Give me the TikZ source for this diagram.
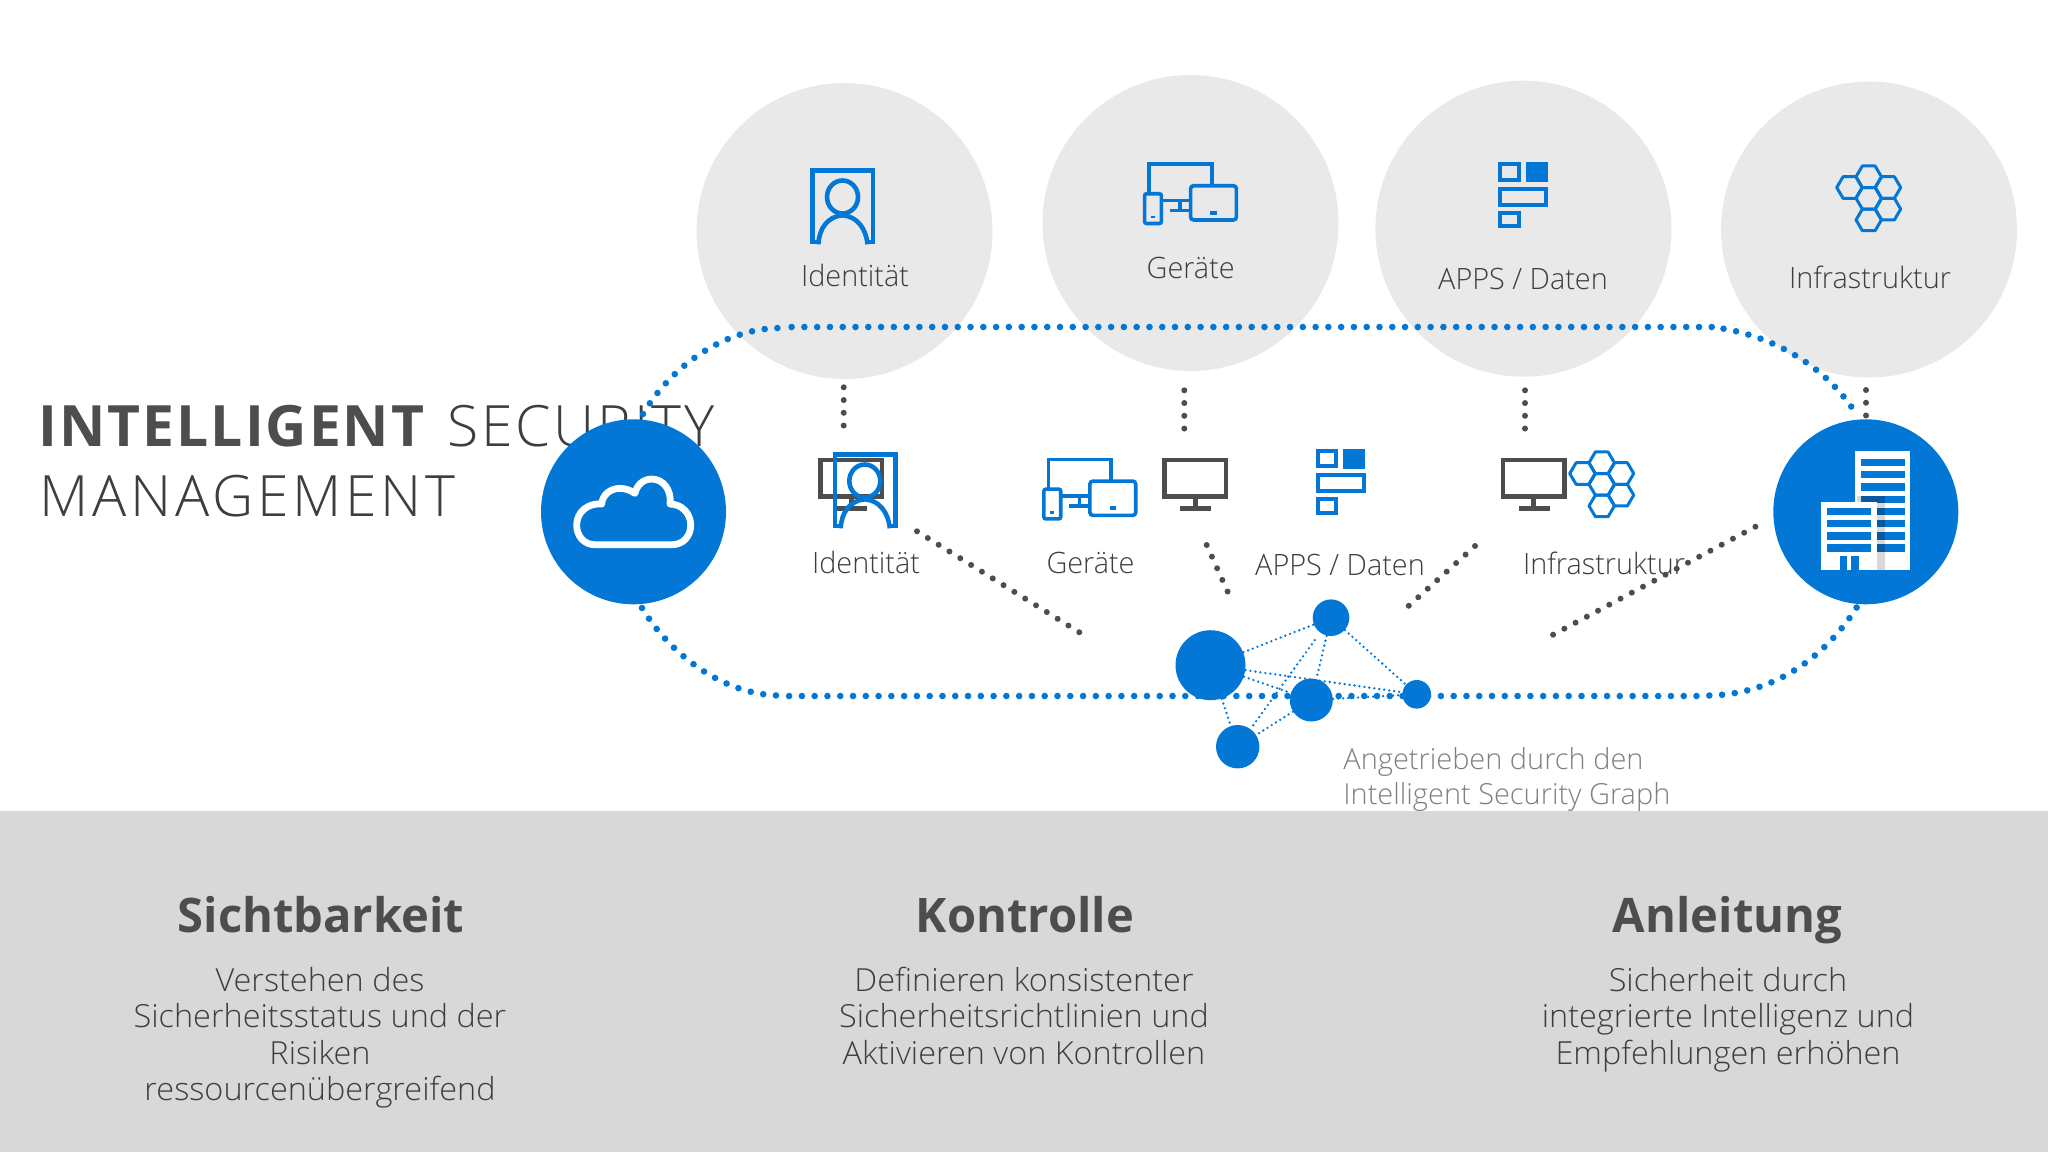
\documentclass[tikz,border=0pt]{standalone}
\usepackage{fontspec}
\setmainfont{Open Sans}
\newfontfamily\labf[FakeStretch=0.98]{Open Sans Light}
\newfontfamily\bodyf[FakeStretch=1.02]{Open Sans Light}
\newfontfamily\captf[FakeStretch=0.998]{Open Sans Light}
\newfontfamily\headf[FakeStretch=0.99]{Open Sans}
\newfontfamily\titleb[LetterSpace=3.4]{Open Sans}
\newfontfamily\titles[LetterSpace=5.05]{Open Sans Light}
\newfontfamily\titlem[LetterSpace=6.6]{Open Sans Light}
\definecolor{msblue}{HTML}{0377D6}
\definecolor{ink}{HTML}{4D4D4F}
\definecolor{inklight}{HTML}{3E3E40}
\definecolor{bubble}{HTML}{E9E9EA}
\definecolor{bandgrey}{HTML}{D9D8D9}
\definecolor{capt}{HTML}{7F7F82}
\definecolor{shadowgrey}{HTML}{D8D8D8}
\definecolor{deepblue}{HTML}{075A9F}
\tikzset{
  bubblenode/.style={circle,fill=bubble,inner sep=0pt,minimum size=148pt},
  bignode/.style={circle,fill=msblue,inner sep=0pt,minimum size=92.5pt},
  graphnode/.style={circle,fill=msblue,inner sep=0pt},
  lab/.style={anchor=base,text=inklight,inner sep=0pt,font=\labf\fontsize{14.7}{17}\selectfont},
  bodytxt/.style={anchor=base,text=inklight,inner sep=0pt,font=\bodyf\fontsize{15.9}{18}\selectfont},
  headtxt/.style={anchor=base,text=ink,inner sep=0pt,font=\headf\bfseries\fontsize{23.8}{26}\selectfont},
  titletxt/.style={anchor=base west,text=ink,inner sep=0pt},
  titlelight/.style={anchor=base west,text=inklight,inner sep=0pt},
  capttxt/.style={anchor=base west,text=capt,inner sep=0pt,font=\captf\fontsize{14.5}{17}\selectfont},
  bluedots/.style={draw=msblue,line width=3.3pt,line cap=round,dash pattern=on 0pt off 6.39pt},
  darkdots/.style={draw=ink,line width=3pt,line cap=round,dash pattern=on 0pt off 6.37pt},
  edgedots/.style={draw=msblue,line width=1.3pt,line cap=round,dash pattern=on 0pt off 2.5pt},
  idicon/.pic={
    \begin{scope}[draw=msblue,line width=2.3pt,line join=miter]
      \draw (8.4,73.7) -- (2.6,73.7) -- (2.6,2.2) -- (62.9,2.2) -- (62.9,73.7) -- (57.5,73.7);
      \draw (8.4,76) .. controls (9,60) and (18,48) .. (32.5,47) .. controls (47,48) and (56,60) .. (57.5,76);
      \draw (32.5,28.7) ellipse [x radius=15.5,y radius=16.5];
    \end{scope}
  },
  devicon/.pic={
    \begin{scope}[draw=msblue,line width=1.8pt]
      \draw (6.2,30) -- (6.2,1.8) -- (68.7,1.8) -- (68.7,22);
      \draw (20,38) -- (46,38);
      \draw (37,38) -- (37,48);
      \draw (27,48.3) -- (46,48.3);
      \draw[rounded corners=1pt] (1.6,31.4) rectangle (18.4,61.2);
      \draw[rounded corners=1.5pt] (47.6,23.4) rectangle (93.4,57.7);
    \end{scope}
    \fill[msblue] (8,53.5) rectangle (12,56);
    \fill[msblue] (67.3,48.7) rectangle (73.8,52.7);
  },
  appicon/.pic={
    \begin{scope}[draw=msblue,line width=2pt]
      \draw (2,2) rectangle (20.2,17.4);
      \draw (2,26.4) rectangle (48,42.4);
      \draw (2,50.4) rectangle (20.2,64);
    \end{scope}
    \fill[msblue] (27.6,0) rectangle (49.6,20);
  },
  hexicon/.pic={
    \foreach \hx/\hy in {0/-21.6,-19.3/-10.8,19.3/-10.8,0/0,19.3/10.8,0/21.6}{
      \draw[msblue,line width=1.5pt,line join=round] (\hx,\hy) +(-12.7,0) -- +(-6.35,-10.8) -- +(6.35,-10.8) -- +(12.7,0) -- +(6.35,10.8) -- +(-6.35,10.8) -- cycle;
    }
  },
  monicon/.pic={
    \draw[ink,line width=2.3pt] (2.3,2.3) rectangle (64,39);
    \fill[ink] (30.5,41) rectangle (35.5,50);
    \fill[ink] (18,48.3) rectangle (49,53.3);
  },
}
\begin{document}
\begin{tikzpicture}[x=0.5pt,y=-0.5pt]
\useasboundingbox (0,0) rectangle (2048,1152);
% band
\fill[bandgrey] (0,810.7) rectangle (2048,1152);
% bubbles
\node[bubblenode] (b1) at (844.5,231) {};
\node[bubblenode] (b2) at (1190.5,223) {};
\node[bubblenode] (b3) at (1523.4,228.7) {};
\node[bubblenode] (b4) at (1869,229.5) {};
% top icons
\pic at (810,168.3) {idicon};
\pic at (1143,162.3) {devicon};
\pic at (1498.4,162.3) {appicon};
\pic at (1868.7,198.3) {hexicon};
% top labels
\node[lab] (l1) at (855,286) {Identität};
\node[lab] (l2) at (1190.7,278.5) {Geräte};
\node[lab] (l3) at (1523,289.5) {APPS / Daten};
\node[lab] (l4) at (1870,288.2) {Infrastruktur};
% title
\node[titletxt] (t1) at (38.5,446.7) {\titleb\bfseries\fontsize{28.5}{30}\selectfont INTELLIGENT};
\node[titlelight] (t2) at (446.8,446.7) {\titles\fontsize{28.5}{30}\selectfont SECURITY};
\node[titlelight] (t3) at (39.2,516.7) {\titlem\fontsize{28.5}{30}\selectfont MANAGEMENT};
% second row icons
\pic at (818,457.7) {monicon};
\pic at (832.3,452.3) {idicon};
\pic at (1042.3,457.7) {devicon};
\pic at (1162,457.7) {monicon};
\pic at (1315.7,449) {appicon};
\pic at (1500.5,457.7) {monicon};
\pic at (1601.7,484.3) {hexicon};
% second row labels
\node[lab] (m1) at (866,573) {Identität};
\node[lab] (m2) at (1090.5,573) {Geräte};
\node[lab] (m3) at (1340,575.5) {APPS / Daten};
\node[lab] (m4) at (1604,574) {Infrastruktur};
% dotted loop
\coordinate (ltA) at (643,414); \coordinate (ltB) at (779,328);
\coordinate (tS) at (791.6,327); \coordinate (tE) at (1713,327);
\coordinate (rtA) at (1723.5,328.7); \coordinate (rtB) at (1858,417);
\coordinate (lbA) at (642,608); \coordinate (lbB) at (778,695.5);
\coordinate (bS) at (789.1,696); \coordinate (bE) at (1700,696);
\coordinate (rbA) at (1709.3,695.5); \coordinate (rbB) at (1857,607);
\draw[bluedots] (ltA) .. controls (670,368) and (722,329) .. (ltB);
\draw[bluedots] (tS) -- (tE);
\draw[bluedots] (rtA) .. controls (1778,338) and (1830,370) .. (rtB);
\draw[bluedots] (lbA) .. controls (670,654) and (722,694) .. (lbB);
\draw[bluedots] (bS) -- (bE);
\draw[bluedots] (rbA) .. controls (1775,694) and (1825,657) .. (rbB);
% vertical dotted lines
\coordinate (v1a) at (843.7,387.3); \coordinate (v1b) at (843.7,426);
\coordinate (v2a) at (1184.3,390.3); \coordinate (v2b) at (1184.3,429);
\coordinate (v3a) at (1525,390.3); \coordinate (v3b) at (1525,429);
\coordinate (v4a) at (1866,390); \coordinate (v4b) at (1866,416);
\draw[darkdots] (v1a) -- (v1b);
\draw[darkdots] (v2a) -- (v2b);
\draw[darkdots] (v3a) -- (v3b);
\draw[darkdots] (v4a) -- (v4b);
% diagonal dotted lines
\coordinate (d1a) at (917,531.3); \coordinate (d1b) at (1080.5,633);
\coordinate (d2a) at (1206.7,545); \coordinate (d2b) at (1228,592.5);
\coordinate (d3a) at (1475,546); \coordinate (d3b) at (1408,606.5);
\coordinate (d4a) at (1755.4,526.7); \coordinate (d4b) at (1551.5,635.5);
\draw[darkdots] (d1a) -- (d1b);
\draw[darkdots] (d2a) -- (d2b);
\draw[darkdots] (d3a) -- (d3b);
\draw[darkdots] (d4a) -- (d4b);
% graph
\node[graphnode,minimum size=35pt] (n1) at (1210.5,665.2) {};
\node[graphnode,minimum size=18.3pt] (n2) at (1331,617.7) {};
\node[graphnode,minimum size=21.5pt] (n3) at (1311.3,700) {};
\node[graphnode,minimum size=14.3pt] (n4) at (1416.7,694.3) {};
\node[graphnode,minimum size=21.7pt] (n5) at (1237.7,746.7) {};
\draw[edgedots] (n1) -- (n2);
\draw[edgedots] (n1) -- (n3);
\draw[edgedots] (n1) -- (n4);
\draw[edgedots] (n1) -- (n5);
\draw[edgedots] (n2) -- (n3);
\draw[edgedots] (n2) -- (n4);
\draw[edgedots,shorten <=4.5pt] (n2) -- (n5);
\draw[edgedots] (n3) -- (n4);
\draw[edgedots] (n3) -- (n5);
% caption
\node[capttxt] (c1) at (1343,769) {Angetrieben durch den};
\node[capttxt] (c2) at (1343,804.2) {Intelligent Security Graph};
% big circles
\node[bignode] (cloud) at (633.5,511.8) {};
\node[bignode] (bld) at (1865.8,511.8) {};
% cloud icon
\begin{scope}[shift={(520,320)},x=0.1667pt,y=-0.1667pt]
\draw[white,line width=3.4pt,line join=round] (225,674) -- (455,674) .. controls (490,674) and (512,648) .. (512,615) .. controls (512,580) and (485,552) .. (450,552) .. controls (455,510) and (430,477) .. (395,477) .. controls (370,477) and (350,495) .. (345,520) .. controls (330,510) and (315,505) .. (300,505) .. controls (270,505) and (247,525) .. (245,552) .. controls (205,548) and (170,575) .. (170,615) .. controls (170,648) and (192,674) .. (225,674) -- cycle;
\end{scope}
% building icon
\fill[white] (1855.3,451) rectangle (1910.3,570);
\foreach \by in {459,471,483.3,495.7,507.7,520,532.3,544.3}{
  \fill[msblue] (1861,\by) rectangle (1905,\by+7.3);
}
\fill[shadowgrey] (1856.7,496) rectangle (1861,502);
\fill[shadowgrey] (1876.7,496) rectangle (1885,570);
\fill[deepblue] (1861,496) rectangle (1885,503);
\foreach \by in {507.7,520,532.3,544.3}{
  \fill[deepblue] (1876.7,\by) rectangle (1885,\by+7.3);
}
\fill[white] (1821.3,501.7) rectangle (1876.7,570);
\foreach \by in {507.7,520,532.3,544.3}{
  \fill[msblue] (1827,\by) rectangle (1871.3,\by+7.3);
}
\fill[msblue] (1839.7,556) rectangle (1847,570);
\fill[msblue] (1851.3,556) rectangle (1858.7,570);
% bottom text
\node[headtxt] (h1) at (321,932.7) {Sichtbarkeit};
\node[bodytxt] at (320,991.7) {Verstehen des};
\node[bodytxt] at (320,1027.7) {Sicherheitsstatus und der};
\node[bodytxt] at (320,1064) {Risiken};
\node[bodytxt] at (320,1100) {ressourcenübergreifend};
\node[headtxt] (h2) at (1025,932.7) {Kontrolle};
\node[bodytxt] at (1024,991.7) {Definieren konsistenter};
\node[bodytxt] at (1024,1027.7) {Sicherheitsrichtlinien und};
\node[bodytxt] at (1024,1064) {Aktivieren von Kontrollen};
\node[headtxt] (h3) at (1727.5,932.7) {Anleitung};
\node[bodytxt] at (1728,991.7) {Sicherheit durch};
\node[bodytxt] at (1728,1027.7) {integrierte Intelligenz und};
\node[bodytxt] at (1728,1064) {Empfehlungen erhöhen};
\end{tikzpicture}
\end{document}
